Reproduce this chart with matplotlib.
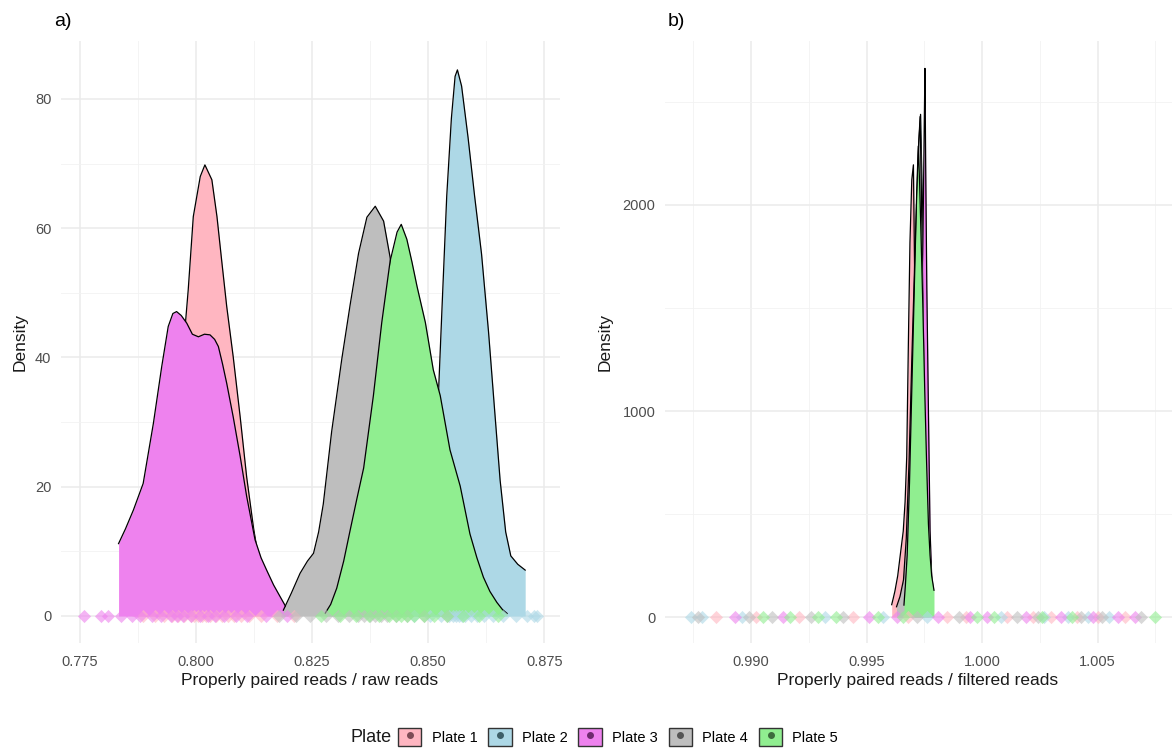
import numpy as np
import matplotlib
matplotlib.use("Agg")
import matplotlib.pyplot as plt
from matplotlib.patches import Patch
from matplotlib.lines import Line2D
from matplotlib.legend_handler import HandlerTuple

plt.rcParams['font.family'] = ['Liberation Sans', 'DejaVu Sans']

plates = ["Plate 1", "Plate 2", "Plate 3", "Plate 4", "Plate 5"]
fills = ["#FFB6C1", "#ADD8E6", "#EE82EE", "#BEBEBE", "#90EE90"]
dots = ["#7d4b55", "#3e5f68", "#6e2a6e", "#555555", "#3d6b3d"]

# --- a) properly paired / raw reads: density curves (x, density) ---
raw_x = [
    [0.7862, 0.7880, 0.7900, 0.7920, 0.7940, 0.7958, 0.7972, 0.7983, 0.7994, 0.8009, 0.8019,
     0.8034, 0.8045, 0.8055, 0.8066, 0.8080, 0.8095, 0.8109, 0.8124, 0.8138, 0.8155, 0.8172, 0.8190],
    [0.8450, 0.8470, 0.8490, 0.8505, 0.8515, 0.8522, 0.8530, 0.8540, 0.8550, 0.8558, 0.8563,
     0.8572, 0.8586, 0.8600, 0.8615, 0.8630, 0.8643, 0.8655, 0.8667, 0.8678, 0.8693, 0.8709],
    [0.7833, 0.7848, 0.7865, 0.7886, 0.7908, 0.7926, 0.7940, 0.7950, 0.7958, 0.7968, 0.7980,
     0.7992, 0.8005, 0.8018, 0.8030, 0.8040, 0.8048, 0.8057, 0.8066, 0.8080, 0.8095, 0.8109,
     0.8127, 0.8140, 0.8152, 0.8167, 0.8181, 0.8192, 0.8200],
    [0.8188, 0.8205, 0.8224, 0.8240, 0.8253, 0.8264, 0.8274, 0.8292, 0.8314, 0.8332, 0.8350,
     0.8368, 0.8386, 0.8404, 0.8418, 0.8435, 0.8455, 0.8475, 0.8500, 0.8525, 0.8550, 0.8570],
    [0.8278, 0.8290, 0.8303, 0.8318, 0.8332, 0.8346, 0.8361, 0.8382, 0.8400, 0.8418, 0.8433,
     0.8442, 0.8454, 0.8465, 0.8476, 0.8494, 0.8511, 0.8526, 0.8547, 0.8569, 0.8590, 0.8605,
     0.8619, 0.8633, 0.8648, 0.8660, 0.8670],
]
raw_y = [
    [1.0, 2.5, 6.0, 12.0, 22.0, 33.0, 41.0, 50.4, 61.8, 68.0, 69.8,
     67.5, 61.8, 55.1, 47.9, 40.1, 30.8, 21.5, 13.5, 7.5, 3.5, 1.3, 0.4],
    [1.0, 4.0, 10.0, 18.0, 26.0, 34.1, 48.0, 65.0, 77.0, 83.5, 84.5,
     82.0, 74.0, 65.0, 56.0, 44.0, 32.0, 21.0, 13.0, 9.3, 8.0, 7.1],
    [11.2, 13.5, 16.4, 20.5, 29.8, 38.6, 44.8, 46.8, 47.1, 46.5, 45.3,
     43.6, 43.2, 43.6, 43.5, 42.8, 41.7, 39.0, 36.0, 30.8, 24.7, 18.5,
     11.8, 9.0, 7.1, 4.8, 3.0, 1.6, 0.9],
    [0.9, 3.5, 6.6, 8.5, 9.7, 13.0, 17.3, 28.5, 39.8, 48.2, 56.1,
     61.7, 63.4, 61.1, 55.5, 45.0, 33.0, 22.0, 12.0, 5.5, 2.0, 0.8],
    [0.4, 1.8, 4.3, 8.5, 13.3, 18.0, 22.9, 34.1, 45.4, 54.9, 59.4,
     60.6, 58.3, 54.8, 51.0, 45.4, 38.1, 34.1, 25.7, 20.1, 12.7, 9.0,
     6.0, 3.8, 2.1, 1.0, 0.4],
]
# per-sample ratios, plotted along y = 0
raw_pts = [
    [0.7885, 0.7912, 0.7930, 0.7948, 0.7961, 0.7975, 0.7988, 0.7996, 0.8004, 0.8012, 0.8021,
     0.8030, 0.8043, 0.8055, 0.8068, 0.8082, 0.8097, 0.8115, 0.8140, 0.8175, 0.8210],
    [0.8470, 0.8505, 0.8528, 0.8545, 0.8553, 0.8560, 0.8566, 0.8572, 0.8580, 0.8592, 0.8605,
     0.8621, 0.8640, 0.8662, 0.8690, 0.8712, 0.8728, 0.8735],
    [0.7759, 0.7795, 0.7810, 0.7838, 0.7862, 0.7880, 0.7905, 0.7925, 0.7945, 0.7958, 0.7972,
     0.7990, 0.8008, 0.8025, 0.8040, 0.8060, 0.8085, 0.8110, 0.8150, 0.8195],
    [0.8178, 0.8215, 0.8245, 0.8280, 0.8305, 0.8330, 0.8348, 0.8362, 0.8375, 0.8386, 0.8398,
     0.8412, 0.8430, 0.8455, 0.8490, 0.8540],
    [0.8270, 0.8310, 0.8345, 0.8372, 0.8395, 0.8415, 0.8430, 0.8442, 0.8455, 0.8470, 0.8490,
     0.8512, 0.8540, 0.8575, 0.8610, 0.8650],
]

# --- b) properly paired / filtered reads ---
filt_x = [
    [0.99609, 0.99616, 0.99623, 0.99635, 0.99645, 0.99659, 0.99667, 0.99674, 0.99681, 0.99688,
     0.99696, 0.99703, 0.99708, 0.99714, 0.99720, 0.99726, 0.99732],
    [0.99640, 0.99660, 0.99680, 0.99695, 0.99708, 0.99718, 0.99726, 0.99734, 0.99742, 0.99750,
     0.99758, 0.99766, 0.99774],
    [0.99690, 0.99705, 0.99718, 0.99728, 0.99738, 0.99746, 0.99750, 0.99753, 0.99756, 0.99761,
     0.99768, 0.99775, 0.99782, 0.99789],
    [0.99630, 0.99645, 0.99660, 0.99672, 0.99684, 0.99696, 0.99708, 0.99718, 0.99726, 0.99732,
     0.99737, 0.99742, 0.99748, 0.99755, 0.99762, 0.99770],
    [0.99662, 0.99668, 0.99676, 0.99686, 0.99697, 0.99708, 0.99717, 0.99724, 0.99730, 0.99736,
     0.99744, 0.99752, 0.99760, 0.99768, 0.99775, 0.99782, 0.99792],
]
filt_y = [
    [60, 92, 126, 200, 291, 417, 560, 777, 1316, 1817, 2123, 2195, 1700, 1000, 500, 200, 60],
    [40, 120, 350, 800, 1400, 1950, 2300, 2440, 2000, 1300, 700, 300, 120],
    [50, 200, 500, 900, 1400, 2000, 2400, 2663, 2200, 1600, 1000, 420, 200, 126],
    [50, 100, 180, 380, 750, 1250, 1700, 2050, 2300, 2429, 2100, 1700, 1200, 700, 350, 120],
    [58, 150, 300, 650, 1150, 1650, 2050, 2286, 2100, 1850, 1500, 1100, 750, 450, 300, 200, 130],
]
filt_pts = [
    [0.9885, 0.9902, 0.9921, 0.9944, 0.9968, 0.9985, 0.9993, 1.0011, 1.0022, 1.0030, 1.0041,
     1.0050, 1.0062],
    [0.9874, 0.9879, 0.9896, 0.9932, 0.9957, 0.9976, 1.0008, 1.0027, 1.0037, 1.0046, 1.0055],
    [0.9893, 0.9914, 0.9951, 0.9963, 0.9981, 0.9995, 1.0002, 1.0019, 1.0034, 1.0048, 1.0059,
     1.0066],
    [0.9877, 0.9899, 0.9909, 0.9926, 0.9940, 0.9972, 0.9990, 1.0015, 1.0024, 1.0043, 1.0052,
     1.0069],
    [0.9905, 0.9917, 0.9929, 0.9937, 0.9955, 0.9966, 0.9998, 1.0005, 1.0026, 1.0039, 1.0075],
]

W, H = 1172, 756
fig = plt.figure(figsize=(W / 100, H / 100), dpi=100)


def px_axes(left, right, top, bottom):
    return fig.add_axes([left / W, 1 - bottom / H, (right - left) / W, (bottom - top) / H])


def style(ax, xmaj, xmin, ymaj, ymin, fmt):
    ax.set_facecolor("white")
    for s in ax.spines.values():
        s.set_visible(False)
    ax.set_xticks(xmaj)
    ax.set_xticks(xmin, minor=True)
    ax.set_yticks(ymaj)
    ax.set_yticks(ymin, minor=True)
    ax.set_xticklabels([fmt.format(v) for v in xmaj])
    ax.grid(which="major", color="#EBEBEB", lw=1.1)
    ax.grid(which="minor", color="#F2F2F2", lw=0.6)
    ax.set_axisbelow(True)
    ax.tick_params(which="both", length=0, labelsize=10.5, labelcolor="#4D4D4D")
    ax.tick_params(axis="x", pad=9)
    ax.tick_params(axis="y", pad=7)


def draw(ax, xs, ys, pts, ptsize):
    for i in range(len(plates)):
        x = np.array(xs[i])
        y = np.array(ys[i])
        ax.fill_between(x, 0, y, color=fills[i], lw=0, zorder=2 + i * 0.1)
        ax.plot(x, y, color="black", lw=0.9, zorder=2.05 + i * 0.1)
    for i in range(len(plates)):
        ax.scatter(pts[i], np.zeros(len(pts[i])), marker="D", s=ptsize,
                   color=fills[i], alpha=0.6, lw=0, zorder=4)


ax_a = px_axes(61, 560, 41, 643)
draw(ax_a, raw_x, raw_y, raw_pts, 45)
ax_a.set_xlim(0.7709, 0.8784)
ax_a.set_ylim(-4.18, 88.97)
style(ax_a, [0.775, 0.800, 0.825, 0.850, 0.875], [0.7875, 0.8125, 0.8375, 0.8625],
      [0, 20, 40, 60, 80], [10, 30, 50, 70], "{:.3f}")

ax_b = px_axes(665, 1172, 41, 643)
draw(ax_b, filt_x, filt_y, filt_pts, 45)
ax_b.set_xlim(0.98628, 1.00822)
ax_b.set_ylim(-126, 2796)
style(ax_b, [0.990, 0.995, 1.000, 1.005], [0.9875, 0.9925, 0.9975, 1.0025, 1.0075],
      [0, 1000, 2000], [500, 1500, 2500], "{:.3f}")

# axis titles and panel tags
title_kw = dict(fontsize=12.5, color="#1A1A1A")
fig.text(310 / W, 1 - 681 / H, "Properly paired reads / raw reads", ha="center", va="center", **title_kw)
fig.text(918 / W, 1 - 681 / H, "Properly paired reads / filtered reads", ha="center", va="center", **title_kw)
fig.text(20 / W, 1 - 342 / H, "Density", rotation=90, ha="center", va="center", **title_kw)
fig.text(605 / W, 1 - 342 / H, "Density", rotation=90, ha="center", va="center", **title_kw)
fig.text(54 / W, 1 - 22 / H, "a)", ha="left", va="center", fontsize=14, color="black")
fig.text(668 / W, 1 - 22 / H, "b)", ha="left", va="center", fontsize=14, color="black")

# legend along the bottom
handles = [(Patch(facecolor=fills[i], edgecolor="#333333", lw=1.0),
            Line2D([], [], ls="", marker="o", ms=4, color=dots[i]))
           for i in range(len(plates))]
fig.text(350 / W, 1 - 737 / H, "Plate", ha="left", va="center", fontsize=13, color="#1A1A1A")
fig.legend(handles, plates, handler_map={tuple: HandlerTuple(ndivide=1, pad=0)},
           loc="center left", bbox_to_anchor=(398 / W, 1 - 737 / H), ncol=5, frameon=False,
           fontsize=10.5, handlelength=1.6, handleheight=1.6, handletextpad=0.7,
           columnspacing=0.75, borderaxespad=0, borderpad=0)

fig.savefig("out.png", dpi=100)
